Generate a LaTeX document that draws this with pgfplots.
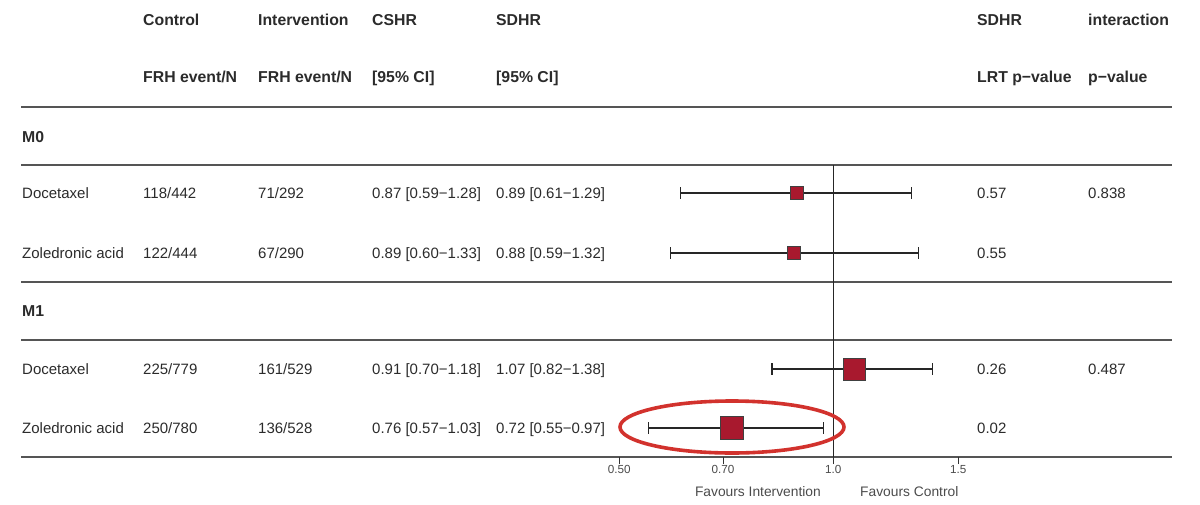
\documentclass[border=0pt]{standalone}
\usepackage{pgfplots}
\pgfplotsset{compat=1.18}
\usepackage{fontspec}
\setmainfont{Liberation Sans}
\definecolor{txt}{HTML}{2B2B2B}
\definecolor{rule}{HTML}{555555}
\definecolor{sqred}{HTML}{A8192E}
\definecolor{ellred}{HTML}{D2322D}
\newcommand\bodyf{\fontsize{15pt}{18pt}\selectfont}
\newcommand\headf{\fontsize{15.8pt}{18pt}\selectfont\bfseries}
\begin{document}
\begin{tikzpicture}
\useasboundingbox (0pt,0pt) rectangle (1200pt,-504pt);
\begin{scope}[x=1pt,y=1pt]
% header
\begin{scope}[every node/.style={anchor=base west, inner sep=0pt, text=txt, font=\headf}]
\node at (143,-25.8) {Control};
\node at (258,-25.8) {Intervention};
\node at (372,-25.8) {CSHR};
\node at (496,-25.8) {SDHR};
\node at (977,-25.8) {SDHR};
\node at (1088,-25.8) {interaction};
\node at (143,-82.8) {FRH event/N};
\node at (258,-82.8) {FRH event/N};
\node at (372,-82.8) {[95\% CI]};
\node at (496,-82.8) {[95\% CI]};
\node at (977,-82.8) {LRT p\textminus value};
\node at (1088,-82.8) {p\textminus value};
\node at (22,-142.8) {M0};
\node at (22,-316.8) {M1};
\end{scope}
% body rows
\begin{scope}[every node/.style={anchor=base west, inner sep=0pt, text=txt, font=\bodyf}]
\node at (22,-198.4) {Docetaxel};
\node at (143,-198.4) {118/442};
\node at (258,-198.4) {71/292};
\node at (372,-198.4) {0.87 [0.59\textminus 1.28]};
\node at (496,-198.4) {0.89 [0.61\textminus 1.29]};
\node at (977,-198.4) {0.57};
\node at (1088,-198.4) {0.838};
\node at (22,-258.4) {Zoledronic acid};
\node at (143,-258.4) {122/444};
\node at (258,-258.4) {67/290};
\node at (372,-258.4) {0.89 [0.60\textminus 1.33]};
\node at (496,-258.4) {0.88 [0.59\textminus 1.32]};
\node at (977,-258.4) {0.55};
\node at (22,-374.4) {Docetaxel};
\node at (143,-374.4) {225/779};
\node at (258,-374.4) {161/529};
\node at (372,-374.4) {0.91 [0.70\textminus 1.18]};
\node at (496,-374.4) {1.07 [0.82\textminus 1.38]};
\node at (977,-374.4) {0.26};
\node at (1088,-374.4) {0.487};
\node at (22,-433.4) {Zoledronic acid};
\node at (143,-433.4) {250/780};
\node at (258,-433.4) {136/528};
\node at (372,-433.4) {0.76 [0.57\textminus 1.03]};
\node at (496,-433.4) {0.72 [0.55\textminus 0.97]};
\node at (977,-433.4) {0.02};
\end{scope}
% rules
\foreach \yy in {107,165,282,340,457} {
  \draw[rule, line width=2pt] (21,-\yy) -- (1172,-\yy);
}
\end{scope}
\begin{axis}[
  at={(619.3pt,-457pt)}, anchor=south west,
  scale only axis, width=339pt, height=292pt,
  xmode=log, xmin=0.5, xmax=1.5, ymin=0, ymax=292,
  axis line style={draw=none},
  ytick=\empty, xtick pos=bottom,
  clip=false,
  xtick={0.5,0.7,1,1.5}, xticklabels={0.50,0.70,1.0,1.5},
  tick align=outside, major tick length=7pt,
  every tick/.style={draw=black!80, line width=1.1pt},
  xticklabel style={font=\fontsize{11.7pt}{13pt}\selectfont, text=txt!85, inner sep=1pt},
  /pgf/number format/assume math mode=true,
]
% tick marks below the axis line
\addplot[only marks, mark=|, mark size=3.5pt, mark options={draw=black!80, line width=1.1pt}] coordinates {(0.5,-3.5) (0.7,-3.5) (1,-3.5) (1.5,-3.5)};
% reference line at 1
\addplot[black!85, line width=1.2pt, mark=none] coordinates {(1,292) (1,0)};
% confidence intervals (y = 457 - pixel row)
\addplot[black!85, line width=1.2pt, mark=|, mark size=6pt, mark options={line width=1.2pt}] coordinates {(0.61,264) (1.29,264)};
\addplot[black!85, line width=1.2pt, mark=|, mark size=6pt, mark options={line width=1.2pt}] coordinates {(0.59,204) (1.32,204)};
\addplot[black!85, line width=1.2pt, mark=|, mark size=6pt, mark options={line width=1.2pt}] coordinates {(0.82,88) (1.38,88)};
\addplot[black!85, line width=1.2pt, mark=|, mark size=6pt, mark options={line width=1.2pt}] coordinates {(0.55,29) (0.97,29)};
% point estimates
\addplot[only marks, mark=square*, mark size=6.5pt, mark options={fill=sqred, draw=black!75, line width=1pt}] coordinates {(0.89,264)};
\addplot[only marks, mark=square*, mark size=6.5pt, mark options={fill=sqred, draw=black!75, line width=1pt}] coordinates {(0.88,204)};
\addplot[only marks, mark=square*, mark size=11pt, mark options={fill=sqred, draw=black!75, line width=1pt}] coordinates {(1.07,88)};
\addplot[only marks, mark=square*, mark size=11.5pt, mark options={fill=sqred, draw=black!75, line width=1pt}] coordinates {(0.72,29)};
\end{axis}
\begin{scope}[x=1pt,y=1pt]
\node[anchor=base east, inner sep=0pt, text=txt!85, font=\fontsize{13.8pt}{16pt}\selectfont] at (821,-496.5) {Favours Intervention};
\node[anchor=base west, inner sep=0pt, text=txt!85, font=\fontsize{13.8pt}{16pt}\selectfont] at (860,-496.5) {Favours Control};
\draw[ellred, line width=3.6pt] (732,-427) ellipse [x radius=112pt, y radius=26pt];
\end{scope}
\end{tikzpicture}
\end{document}
